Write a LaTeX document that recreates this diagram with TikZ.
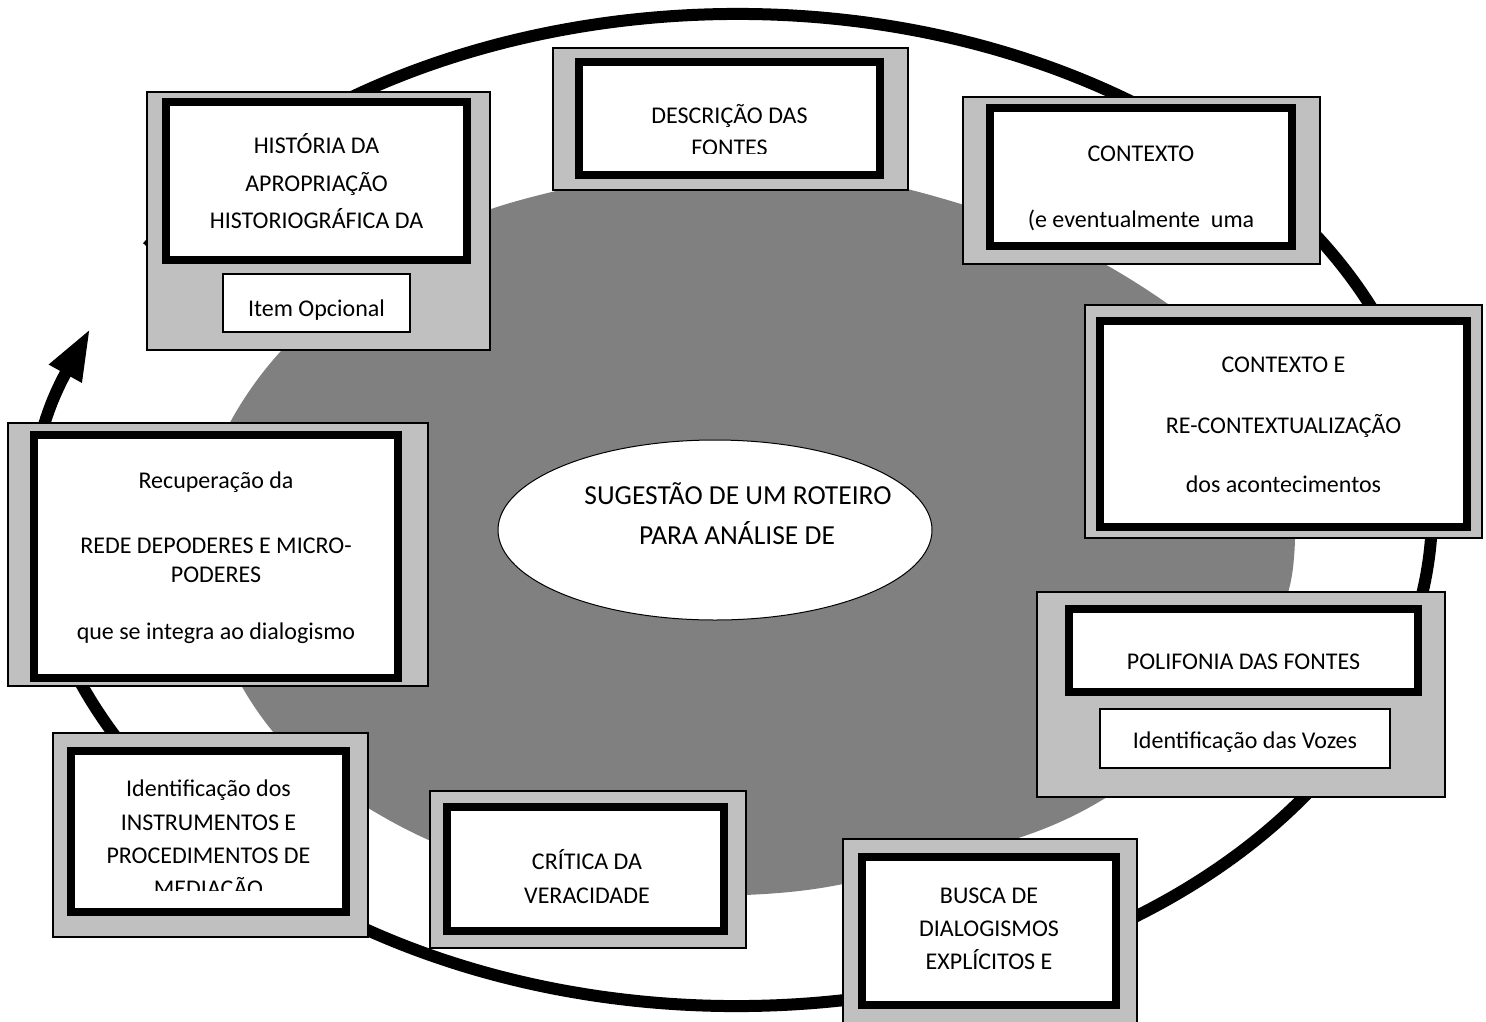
\documentclass[tikz,border=0pt]{standalone}
\usepackage{fontspec}
\setmainfont{Carlito}
\usetikzlibrary{arrows.meta,shapes.geometric}
\definecolor{panelgray}{RGB}{192,192,192}
\definecolor{bggray}{RGB}{128,128,128}
\tikzset{
  panel/.style={draw=black, line width=1.2pt, fill=panelgray, inner sep=0pt, outer sep=0pt, rectangle},
  frameout/.style={draw=black, line width=1pt, fill=panelgray, inner sep=0pt, outer sep=0pt, rectangle},
  framein/.style={draw=black, line width=8pt, fill=white, inner sep=0pt, outer sep=0pt, rectangle},
  subbox/.style={draw=black, line width=1.2pt, fill=white, inner sep=0pt, outer sep=0pt, rectangle},
  txt/.style={font=\fontsize{24}{29}\selectfont, inner sep=0pt, anchor=base},
  bigtxt/.style={font=\fontsize{27.5}{33}\selectfont, inner sep=0pt, anchor=base},
  ring/.style={line width=12pt, draw=black},
  centerell/.style={ellipse, draw=black, line width=1pt, fill=white, inner sep=0pt},
}
\newcommand\rectnode[6]{\node[#1, minimum width={#5-#3}, minimum height={#6-#4}] (#2) at ({(#3+#5)/2},{(#4+#6)/2}) {};}
\newcommand\dframe[5]{\rectnode{frameout}{#1}{#2}{#3}{#4}{#5}\rectnode{framein}{#1in}{#2+8}{#3+8}{#4-8}{#5-8}}
\begin{document}
\begin{tikzpicture}[x=1pt,y=-1pt]
\useasboundingbox (0,0) rectangle (1486,1021);
\clip (0,0) rectangle (1486,1021);
% background gray oval
\fill[bggray] plot[smooth cycle, tension=0.7] coordinates {
  (205,540) (250,390) (400,255) (560,190) (745,172) (930,195)
  (1130,279) (1260,400) (1295,540) (1250,660) (1107,797)
  (920,865) (745,895) (560,880) (380,815) (250,700)};
% circular arrow ring
\coordinate (ringc) at (737,510);
\draw[ring, -{Triangle[length=52pt,width=34pt]}] (ringc) ++(212:695 and 496)
  arc[start angle=212, end angle=561.5, x radius=695, y radius=496];

% 1 Historia
\rectnode{panel}{p1}{147}{92}{490}{350}
\dframe{f1}{166}{102}{467}{260}
\rectnode{subbox}{s1}{223}{274}{410}{332}
\node[txt] (t1a) at (316.5,153) {HISTÓRIA DA};
\node[txt] (t1b) at (316.5,191) {APROPRIAÇÃO};
\node[txt] (t1c) at (316.5,228) {HISTORIOGRÁFICA DA};
\node[txt] (t1d) at (316.5,316) {Item Opcional};

% 2 Descricao
\rectnode{panel}{p2}{553}{48}{908}{190}
\dframe{f2}{579}{62}{880}{175}
\begin{scope}
\clip (590,70) rectangle (870,153);
\node[txt] (t2a) at (729.5,123) {DESCRIÇÃO DAS};
\node[txt] (t2b) at (729.5,155.5) {FONTES};
\end{scope}

% 3 Contexto
\rectnode{panel}{p3}{963}{97}{1320}{264}
\dframe{f3}{990}{108}{1292}{246}
\node[txt] (t3a) at (1141,161) {CONTEXTO};
\node[txt] (t3b) at (1141,227) {(e eventualmente\ \ uma};

% 4 Contexto e re-contextualizacao
\rectnode{panel}{p4}{1085}{305}{1482}{538}
\dframe{f4}{1100}{321}{1467}{527}
\node[txt] (t4a) at (1283.5,372) {CONTEXTO E};
\node[txt] (t4b) at (1283.5,433) {RE-CONTEXTUALIZAÇÃO};
\node[txt] (t4c) at (1283.5,492) {dos acontecimentos};

% 5 Polifonia
\rectnode{panel}{p5}{1037}{592}{1445}{797}
\dframe{f5}{1069}{609}{1418}{692}
\rectnode{subbox}{s5}{1100}{709}{1390}{768}
\node[txt] (t5a) at (1243.5,669) {POLIFONIA DAS FONTES};
\node[txt] (t5b) at (1245,748) {Identificação das Vozes};

% 6 Busca
\rectnode{panel}{p6}{843}{839}{1137}{1030}
\dframe{f6}{862}{857}{1116}{1005}
\node[txt] (t6a) at (989,903) {BUSCA DE};
\node[txt] (t6b) at (989,936) {DIALOGISMOS};
\node[txt] (t6c) at (989,969) {EXPLÍCITOS E};

% 7 Critica
\rectnode{panel}{p7}{430}{791}{746}{948}
\dframe{f7}{447}{807}{724}{931}
\node[txt] (t7a) at (587,869) {CRÍTICA DA};
\node[txt] (t7b) at (587,903) {VERACIDADE};

% 8 Identificacao
\rectnode{panel}{p8}{53}{733}{368}{937}
\dframe{f8}{71}{751}{346}{912}
\begin{scope}
\clip (82,760) rectangle (335,890);
\node[txt] (t8a) at (208.5,796) {Identificação dos};
\node[txt] (t8b) at (208.5,830) {INSTRUMENTOS E};
\node[txt] (t8c) at (208.5,863) {PROCEDIMENTOS DE};
\node[txt] (t8d) at (208.5,896) {MEDIAÇÃO};
\end{scope}

% 9 Recuperacao
\rectnode{panel}{p9}{8}{423}{428}{686}
\dframe{f9}{34}{435}{398}{678}
\node[txt] (t9a) at (216,488) {Recuperação da};
\node[txt] (t9b) at (216,553) {REDE DEPODERES E MICRO-};
\node[txt] (t9c) at (216,582) {PODERES};
\node[txt] (t9d) at (216,639) {que se integra ao dialogismo};

% centre ellipse
\node[centerell, minimum width=434, minimum height=180] (ce) at (715,530) {};
\node[bigtxt] (tca) at (738,504) {SUGESTÃO DE UM ROTEIRO};
\node[bigtxt] (tcb) at (737,544) {PARA ANÁLISE DE};
\end{tikzpicture}
\end{document}
